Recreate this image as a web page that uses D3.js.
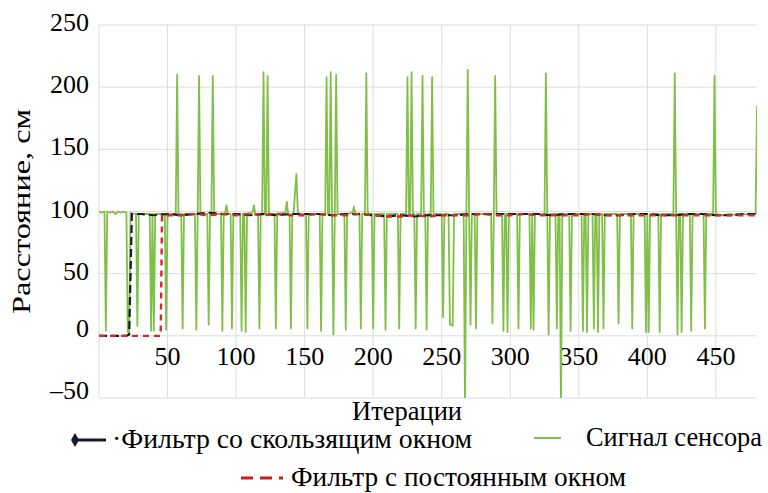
<!DOCTYPE html>
<html>
<head>
<meta charset="utf-8">
<script src="https://cdn.jsdelivr.net/npm/d3@7"></script>
</head>
<body style="margin:0">
<svg id="fig" width="768" height="493"></svg>
<script>
//data
const xTicks = [50, 100, 150, 200, 250, 300, 350, 400, 450];
const yTicks = [-50, 0, 50, 100, 150, 200, 250];

// sensor signal vertices [iteration, cm]
const sensor = [
  [0,100],[2,99],[4,100],[5,4],[6,100],[8,99],[10,100],[12,98],[14,100],[16,99],[18,100],[20,99],
  [21,3],[22,2],[23,99],[26,98],[27,98],[28,8],[29,98],[37,98],[38,4],[39,98],[40,4],[41,98],
  [48,98],[49,5],[50,98],[56,98],[57,210],[58,98],[60,98],[61,6],[62,98],[70,98],[71,5],[72,98],
  [73,209],[74,98],[79,98],[80,9],[81,98],[82,98],[83,209],[84,98],[89,98],[90,4],[91,98],[92,99],
  [93,105],[94,98],[96,98],[97,6],[98,98],[103,98],[104,4],[105,98],[106,98],[107,3],[108,98],
  [112,99],[113,105],[114,98],[116,98],[117,6],[118,98],[119,98],[120,212],[121,98],[122,98],
  [123,209],[124,98],[128,98],[129,6],[130,98],[136,99],[137,108],[138,98],[139,98],[140,6],
  [141,98],[142,99],[143,115],[144,130],[145,100],[146,98],[151,98],[152,6],[153,98],[161,98],
  [162,4],[163,98],[165,98],[166,208],[167,98],[168,98],[169,212],[170,98],[171,1],[172,98],
  [173,210],[174,98],[179,98],[180,5],[181,98],[185,99],[186,104],[187,98],[190,98],[191,6],
  [192,98],[194,98],[195,211],[196,100],[197,98],[199,98],[200,6],[201,98],[208,98],[209,5],
  [210,98],[218,98],[219,6],[220,98],[224,98],[225,208],[226,98],[227,98],[228,212],[229,98],
  [230,98],[231,6],[232,98],[235,98],[236,209],[237,98],[238,98],[239,5],[240,98],[242,98],
  [243,208],[244,98],[250,98],[251,15],[252,98],[255,98],[256,9],[257,9],[258,8],[259,98],
  [266,98],[267,-60],[268,98],[269,214],[270,98],[271,9],[272,98],[274,98],[275,6],[276,98],
  [286,98],[287,10],[288,98],[289,209],[290,98],[294,98],[295,4],[296,98],[297,98],[298,3],
  [299,98],[305,98],[306,6],[307,98],[314,98],[315,6],[316,98],[317,5],[318,98],[325,98],
  [326,211],[327,98],[328,1],[329,98],[333,98],[334,6],[335,97],[336,98],[337,-60],[338,98],
  [343,98],[344,4],[345,98],[352,98],[353,4],[354,98],[355,98],[356,3],[357,98],[360,98],
  [361,6],[362,98],[363,98],[364,3],[365,98],[367,98],[368,6],[369,98],[378,98],[379,10],
  [380,98],[388,98],[389,6],[390,98],[398,98],[399,3],[400,98],[401,3],[402,98],[408,98],
  [409,3],[410,98],[419,98],[420,211],[421,98],[422,1],[423,98],[424,98],[425,3],[426,98],
  [431,98],[432,4],[433,98],[441,98],[442,6],[443,98],[448,98],[449,209],[450,98],[455,97],
  [460,98],[465,97],[470,98],[475,97],[479,98],[480,185]
];

// sliding window filter
const slidingFilter = [
  [0,0],[20,0],[22,1],[24,98],[30,98],[40,97],[50,98],[60,97],[70,98],[80,99],[90,98],[100,98],
  [110,97],[120,98],[130,97],[140,98],[150,98],[160,98],[170,97],[180,98],[190,98],[200,97],
  [210,96],[220,97],[230,96],[240,97],[250,97],[260,97],[270,98],[280,98],[290,98],[300,98],
  [310,98],[320,98],[330,97],[340,98],[350,98],[360,98],[370,97],[380,97],[390,98],[400,98],
  [410,97],[420,97],[430,98],[440,98],[450,97],[460,97],[470,98],[480,98]
];

// constant window filter
const constFilter = [
  [0,0],[45,0],[46,97],[60,97],[70,98],[80,97],[90,98],[100,97],[110,98],[120,97],[130,98],
  [140,97],[150,97],[160,98],[170,97],[180,97],[190,98],[200,97],[210,96],[220,96],[230,97],
  [240,96],[250,97],[260,97],[270,97],[280,98],[290,97],[300,97],[310,98],[320,97],[330,97],
  [340,97],[350,97],[360,98],[370,97],[380,97],[390,97],[400,97],[410,97],[420,97],[430,97],
  [440,97],[450,97],[460,97],[470,97],[480,97]
];

//layout
const W = 768, H = 493;
const M = { left: 99, right: 11, top: 25, bottom: 95 };
const FONT = '"Tinos", "FreeSerif", "Liberation Serif", monospace';

const svg = d3.select('#fig');

const x = d3.scaleLinear().domain([0, 480]).range([M.left, W - M.right]);
const y = d3.scaleLinear().domain([-50, 250]).range([H - M.bottom, M.top]);

function txt(sel, size) {
  return sel.style('font-family', FONT).style('font-size', size + 'px').attr('fill', '#000');
}

svg.append('clipPath').attr('id', 'clip')
  .append('rect')
  .attr('x', M.left).attr('y', M.top)
  .attr('width', W - M.left - M.right).attr('height', H - M.top - M.bottom);

// grid
const grid = svg.append('g').attr('stroke', '#dcdcdc').attr('stroke-width', 1);
grid.selectAll('.hg').data(yTicks).join('line')
  .attr('x1', M.left).attr('x2', W - M.right)
  .attr('y1', d => y(d)).attr('y2', d => y(d));
grid.selectAll('.vg').data([0].concat(xTicks)).join('line')
  .attr('x1', d => x(d)).attr('x2', d => x(d))
  .attr('y1', M.top).attr('y2', H - M.bottom);

// y tick labels
txt(svg.selectAll('.ylab').data(yTicks).join('text'), 26)
  .attr('x', 89).attr('y', d => y(d) - (d <= 0 ? 8 : 3))
  .attr('dy', '0.35em')
  .attr('text-anchor', 'end')
  .text(d => d < 0 ? '\u2013' + Math.abs(d) : d);

// x tick labels (sit just under the zero line)
txt(svg.selectAll('.xlab').data(xTicks).join('text'), 26)
  .attr('text-anchor', 'middle')
  .attr('x', d => x(d)).attr('y', y(0) + 29)
  .text(d => d);

// lines
const line = d3.line().x(d => x(d[0])).y(d => y(d[1]));
const plot = svg.append('g').attr('clip-path', 'url(#clip)');

plot.append('path').datum(sensor)
  .attr('fill', 'none').attr('stroke', '#80bf48').attr('stroke-width', 1.8)
  .attr('stroke-linejoin', 'round')
  .attr('d', line);

plot.append('path').datum(slidingFilter)
  .attr('fill', 'none').attr('stroke', '#141a2c').attr('stroke-width', 2.2)
  .attr('stroke-dasharray', '8,4')
  .attr('d', line);

plot.append('path').datum(constFilter)
  .attr('fill', 'none').attr('stroke', '#d32a2a').attr('stroke-width', 2.4)
  .attr('stroke-dasharray', '6,5')
  .attr('d', line);

// axis titles
txt(svg.append('text'), 26)
  .attr('transform', `translate(30,${(M.top + H - M.bottom) / 2}) rotate(-90)`)
  .attr('text-anchor', 'middle')
  .attr('textLength', 205).attr('lengthAdjust', 'spacingAndGlyphs')
  .text('Расстояние, см');

txt(svg.append('text'), 27)
  .attr('x', 407).attr('y', 420)
  .attr('text-anchor', 'middle')
  .attr('textLength', 110).attr('lengthAdjust', 'spacingAndGlyphs')
  .text('Итерации');

// legend
const leg = svg.append('g');
function legText(xp, yp, len, s) {
  txt(leg.append('text'), 27).attr('x', xp).attr('y', yp)
    .attr('textLength', len).attr('lengthAdjust', 'spacingAndGlyphs')
    .text(s);
}
leg.append('line').attr('x1', 74).attr('x2', 106).attr('y1', 440).attr('y2', 440)
  .attr('stroke', '#141a2c').attr('stroke-width', 3);
leg.append('path').attr('d', d3.symbol(d3.symbolDiamond, 55)())
  .attr('transform', 'translate(75,440)').attr('fill', '#141a2c');
legText(112, 448, 360, '\u00b7Фильтр со скользящим окном');

leg.append('line').attr('x1', 534).attr('x2', 561).attr('y1', 438).attr('y2', 438)
  .attr('stroke', '#80bf48').attr('stroke-width', 2);
legText(586, 446, 176, 'Сигнал сенсора');

leg.append('line').attr('x1', 241).attr('x2', 283).attr('y1', 478).attr('y2', 478)
  .attr('stroke', '#c81e1e').attr('stroke-width', 3).attr('stroke-dasharray', '12,7');
legText(291, 486, 335, 'Фильтр с постоянным окном');
</script>
</body>
</html>
